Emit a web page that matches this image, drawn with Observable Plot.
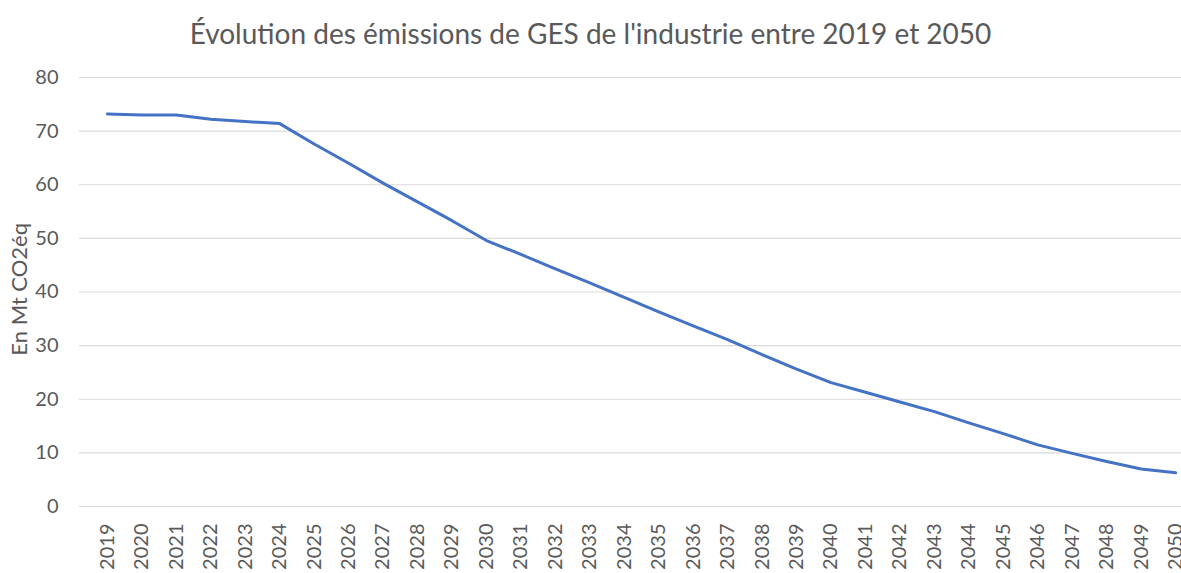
<!DOCTYPE html>
<html>
<head>
<meta charset="utf-8">
<script src="https://cdn.jsdelivr.net/npm/d3@7"></script>
<script src="https://cdn.jsdelivr.net/npm/@observablehq/plot@0.6"></script>
<style>
  html, body { margin: 0; padding: 0; background: #fff; }
  #title { height: 60px; line-height: 66px; text-align: center; font-family: Lato, "Open Sans", sans-serif; font-size: 28px; color: #595959; }
  #chart svg { display: block; }
</style>
</head>
<body>
<div id="title"></div>
<div id="chart"></div>
<script>
const titleText = "Évolution des émissions de GES de l'industrie entre 2019 et 2050";
const yAxisLabel = "En Mt CO2éq";
const years = [2019,2020,2021,2022,2023,2024,2025,2026,2027,2028,2029,2030,2031,2032,2033,2034,2035,2036,2037,2038,2039,2040,2041,2042,2043,2044,2045,2046,2047,2048,2049,2050];
const emissions = [73.2,73.0,73.0,72.2,71.8,71.4,67.6,64.0,60.3,56.8,53.3,49.6,47.0,44.3,41.7,39.0,36.3,33.7,31.1,28.3,25.6,23.1,21.3,19.5,17.7,15.6,13.6,11.5,9.9,8.4,7.0,6.3];
const yTicks = [0,10,20,30,40,50,60,70,80];

document.getElementById("title").textContent = titleText;
const data = years.map((y, i) => ({year: y, value: emissions[i]}));

const chart = Plot.plot({
  width: 1181,
  height: 513,
  marginLeft: 79,
  marginRight: 0,
  marginTop: 17,
  marginBottom: 67,
  style: {fontFamily: "Lato, 'Open Sans', sans-serif", color: "#595959", background: "#fff"},
  x: {type: "linear", domain: [2018.19, 2050.17]},
  y: {domain: [0, 80]},
  marks: [
    Plot.ruleY(yTicks, {stroke: "#d9d9d9", strokeWidth: 1.2}),
    Plot.axisY(yTicks, {tickSize: 0, tickPadding: 21, fontSize: 20, fill: "#595959", label: null}),
    Plot.axisX(years, {tickSize: 0, tickPadding: 17, tickRotate: -90, tickFormat: d => String(d), fontSize: 20, fill: "#595959", label: null}),
    Plot.text([yAxisLabel], {frameAnchor: "left", y: () => 40.5, dx: -60, rotate: -90, textAnchor: "middle", fontSize: 22, fill: "#595959"}),
    Plot.line(data, {x: "year", y: "value", stroke: "#4472C4", strokeWidth: 3, strokeLinejoin: "round", strokeLinecap: "round"})
  ]
});
document.getElementById("chart").appendChild(chart);
</script>
</body>
</html>
